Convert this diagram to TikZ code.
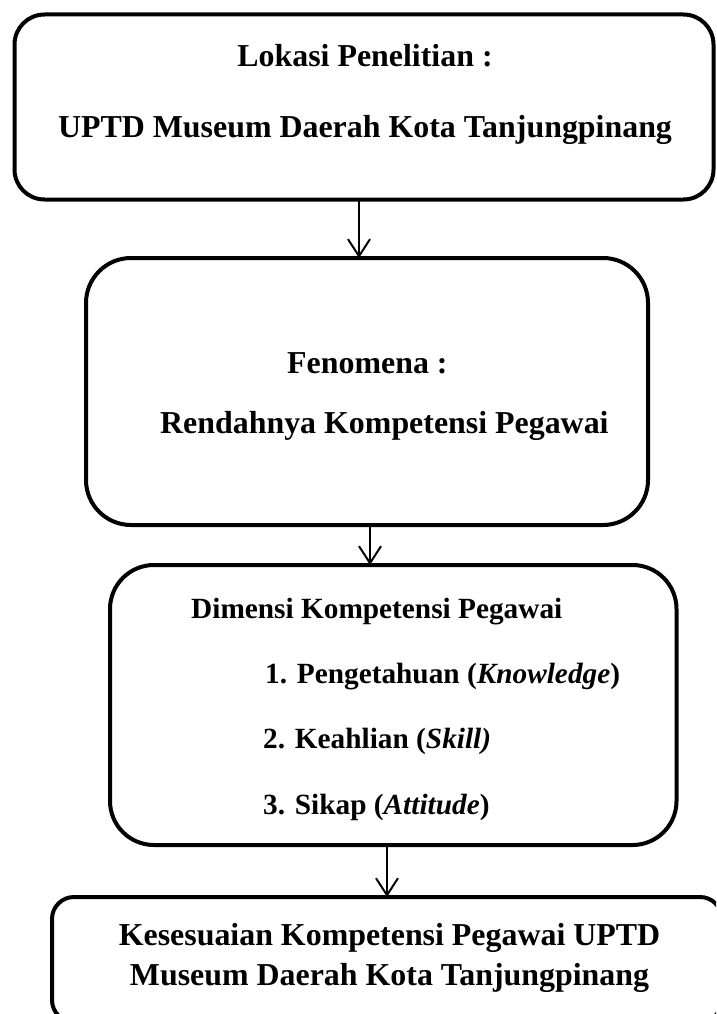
\documentclass[tikz,border=0pt]{standalone}
\usepackage{fontspec}
\setmainfont{Liberation Serif}
\usetikzlibrary{arrows.meta}
\tikzset{
  boxshape/.style={draw=black, line width=4pt, rounded corners=#1, inner sep=0pt, outer sep=0pt, anchor=north west},
  arr/.style={line width=2pt, -{Straight Barb[length=17pt,width=22pt]}},
  bigtxt/.style={inner sep=0pt, font=\fontsize{31.9pt}{38pt}\selectfont\bfseries},
  midtxt/.style={inner sep=0pt, font=\fontsize{29.3pt}{35pt}\selectfont\bfseries}
}
\begin{document}
\begin{tikzpicture}[x=1pt,y=-1pt]
\path[use as bounding box, clip] (0,0) rectangle (716,1014);
\fill[white] (0,0) rectangle (716,1014);

% boxes
\node[boxshape=30pt, minimum width=699pt, minimum height=185pt] (b1) at (14.5,14.5) {};
\node[boxshape=45pt, minimum width=562pt, minimum height=267pt] (b2) at (86,258) {};
\node[boxshape=44pt, minimum width=566.5pt, minimum height=280pt] (b3) at (110,565) {};
\node[boxshape=22pt, minimum width=670pt, minimum height=125pt] (b4) at (52,897) {};

% texts
\node[bigtxt, anchor=base] (t1) at (365,67) {Lokasi Penelitian :};
\node[bigtxt, anchor=base] (t2) at (365,137) {UPTD Museum Daerah Kota Tanjungpinang};
\node[bigtxt, anchor=base west] (t3) at (287,373) {Fenomena :};
\node[bigtxt, anchor=base west] (t4) at (160,433) {Rendahnya Kompetensi Pegawai};
\node[midtxt, anchor=base west] (t5) at (191,618) {Dimensi Kompetensi Pegawai};
\node[midtxt, anchor=base west] (t6) at (265,683) {1. Pengetahuan (\textit{Knowledge})};
\node[midtxt, anchor=base west] (t7) at (263,748) {2. Keahlian (\textit{Skill)}};
\node[midtxt, anchor=base west] (t8) at (263,814) {3. Sikap (\textit{Attitude})};
\node[bigtxt, anchor=base] (t9) at (389.5,945) {Kesesuaian Kompetensi Pegawai UPTD};
\node[bigtxt, anchor=base] (t10) at (389.5,985) {Museum Daerah Kota Tanjungpinang};

% arrow columns
\coordinate (c1) at (359,0);
\coordinate (c2) at (370,0);
\coordinate (c3) at (387,0);
\draw[arr] (b1.south -| c1) -- (b2.north -| c1);
\draw[arr] (b2.south -| c2) -- (b3.north -| c2);
\draw[arr] (b3.south -| c3) -- (b4.north -| c3);
\end{tikzpicture}
\end{document}
